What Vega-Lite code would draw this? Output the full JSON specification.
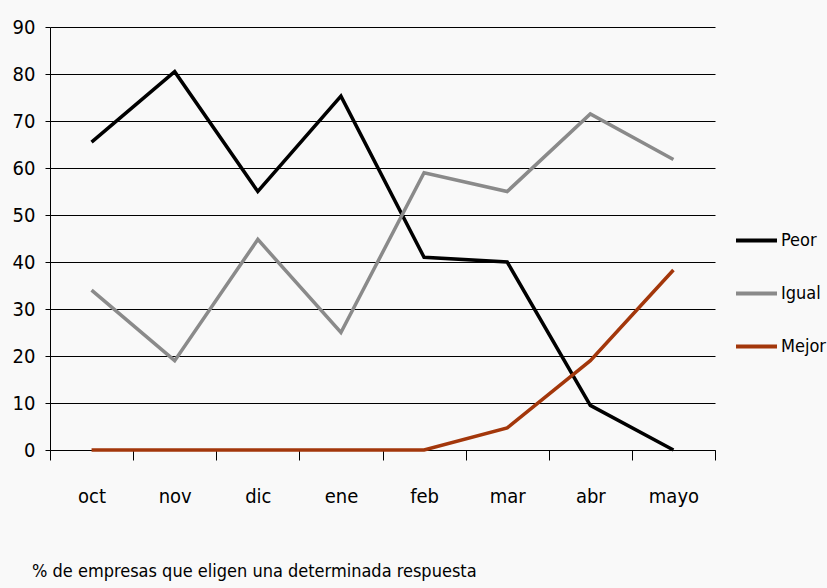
{
  "$schema": "https://vega.github.io/schema/vega-lite/v6.json",
  "autosize": "none",
  "width": 665,
  "height": 423,
  "padding": {"left": 50, "top": 27, "right": 112, "bottom": 138},
  "background": "#f9f9f9",
  "config": {
    "view": {"stroke": null},
    "font": "DejaVu Sans Condensed"
  },
  "title": {
    "text": "% de empresas que eligen una determinada respuesta",
    "orient": "bottom",
    "anchor": "start",
    "frame": "group",
    "offset": 57,
    "dx": -18,
    "fontSize": 18,
    "fontWeight": "normal",
    "color": "#000000",
    "font": "DejaVu Sans Condensed"
  },
  "data": {
    "values": [
      {"mes": "oct", "serie": "Peor", "valor": 65.5},
      {"mes": "nov", "serie": "Peor", "valor": 80.5},
      {"mes": "dic", "serie": "Peor", "valor": 55},
      {"mes": "ene", "serie": "Peor", "valor": 75.3},
      {"mes": "feb", "serie": "Peor", "valor": 41},
      {"mes": "mar", "serie": "Peor", "valor": 40},
      {"mes": "abr", "serie": "Peor", "valor": 9.5},
      {"mes": "mayo", "serie": "Peor", "valor": 0},
      {"mes": "oct", "serie": "Igual", "valor": 34},
      {"mes": "nov", "serie": "Igual", "valor": 19},
      {"mes": "dic", "serie": "Igual", "valor": 44.8},
      {"mes": "ene", "serie": "Igual", "valor": 25},
      {"mes": "feb", "serie": "Igual", "valor": 59},
      {"mes": "mar", "serie": "Igual", "valor": 55},
      {"mes": "abr", "serie": "Igual", "valor": 71.5},
      {"mes": "mayo", "serie": "Igual", "valor": 61.8},
      {"mes": "oct", "serie": "Mejor", "valor": 0},
      {"mes": "nov", "serie": "Mejor", "valor": 0},
      {"mes": "dic", "serie": "Mejor", "valor": 0},
      {"mes": "ene", "serie": "Mejor", "valor": 0},
      {"mes": "feb", "serie": "Mejor", "valor": 0},
      {"mes": "mar", "serie": "Mejor", "valor": 4.7},
      {"mes": "abr", "serie": "Mejor", "valor": 19},
      {"mes": "mayo", "serie": "Mejor", "valor": 38.3}
    ]
  },
  "mark": {"type": "line", "strokeWidth": 3.5, "strokeJoin": "miter", "clip": false},
  "encoding": {
    "x": {
      "field": "mes",
      "type": "nominal",
      "sort": ["oct", "nov", "dic", "ene", "feb", "mar", "abr", "mayo"],
      "bandPosition": 0.5,
      "scale": {"type": "band", "paddingInner": 0, "paddingOuter": 0},
      "axis": {
        "title": null,
        "labelAngle": 0,
        "tickBand": "extent",
        "tickSize": 10,
        "tickColor": "#000000",
        "domainColor": "#000000",
        "labelFontSize": 20,
        "labelColor": "#000000",
        "labelPadding": 26,
        "grid": false
      }
    },
    "y": {
      "field": "valor",
      "type": "quantitative",
      "scale": {"domain": [0, 90], "nice": false},
      "axis": {
        "title": null,
        "values": [0, 10, 20, 30, 40, 50, 60, 70, 80, 90],
        "tickSize": 5,
        "tickColor": "#000000",
        "domainColor": "#000000",
        "gridColor": "#000000",
        "gridOpacity": 1,
        "labelFontSize": 20,
        "labelColor": "#000000",
        "labelPadding": 10
      }
    },
    "color": {
      "field": "serie",
      "type": "nominal",
      "sort": ["Peor", "Igual", "Mejor"],
      "scale": {"domain": ["Peor", "Igual", "Mejor"], "range": ["#000000", "#8a8a8a", "#a3370b"]},
      "legend": {
        "title": null,
        "orient": "none",
        "legendX": 684,
        "legendY": 191,
        "symbolType": "stroke",
        "symbolSize": 1681,
        "symbolStrokeWidth": 4,
        "labelFontSize": 18,
        "labelColor": "#000000",
        "labelOffset": 2,
        "rowPadding": 21
      }
    }
  }
}
